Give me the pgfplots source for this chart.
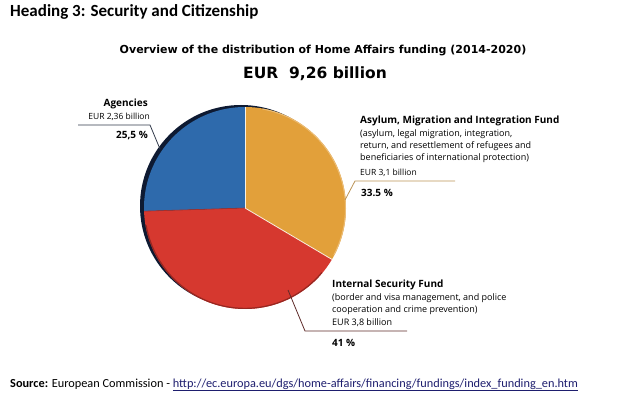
\documentclass[border=0pt]{standalone}
\usepackage{fontspec}
\setmainfont{Open Sans}
\newfontfamily\calibri{Carlito}
\newfontfamily\titlefont{DejaVu Sans}
\usepackage{pgfplots}
\pgfplotsset{compat=1.18}
\definecolor{pieorange}{RGB}{226,160,58}
\definecolor{piered}{RGB}{214,56,47}
\definecolor{pieblue}{RGB}{46,106,172}
\definecolor{shadowc}{RGB}{14,26,50}
\definecolor{linktxt}{RGB}{30,30,110}
% shares in percent
\def\pAsylum{33.5}
\def\pInternal{41}
\def\pAgencies{25.5}
\pgfmathsetmacro\aA{90}
\pgfmathsetmacro\aB{90-3.6*\pAsylum}
\pgfmathsetmacro\aC{\aB-3.6*\pInternal}
\pgfmathsetmacro\aD{\aC-3.6*\pAgencies}
\begin{document}
\begin{tikzpicture}
\useasboundingbox (0,0) rectangle (642pt,399pt);
\begin{axis}[at={(0,0)},anchor=south west,scale only axis,width=642pt,height=399pt,
  xmin=0,xmax=642,ymin=0,ymax=399,hide axis,clip=false]
% shadow
\fill[shadowc] (axis cs:241,193) circle[radius=101pt];
% slices
\fill[pieorange] (axis cs:245,191) -- ++(\aA:101pt) arc[start angle=\aA,end angle=\aB,radius=101pt] -- cycle;
\fill[piered] (axis cs:245,191) -- ++(\aB:101pt) arc[start angle=\aB,end angle=\aC,radius=101pt] -- cycle;
\fill[pieblue] (axis cs:245,191) -- ++(\aC:101pt) arc[start angle=\aC,end angle=\aD,radius=101pt] -- cycle;
\draw[piered!70!black,line width=1.2pt] (axis cs:245,191) ++(-40:100.4pt) arc[start angle=-40,end angle=-170,radius=100.4pt];
\draw[pieorange!70!white,line width=1pt] (axis cs:245,191) ++(80:100.5pt) arc[start angle=80,end angle=-28,radius=100.5pt];
\draw[white!85!pieorange,line width=0.8pt] (axis cs:245,191) -- ++(\aA:101pt);
\draw[white!85!pieorange,line width=0.8pt] (axis cs:245,191) -- ++(\aB:101pt);
\draw[piered!80!black,line width=0.6pt] (axis cs:245,191) -- ++(\aC:101pt);
% heading
\node[anchor=base west,inner sep=0pt,font=\calibri\bfseries\fontsize{17}{20}\selectfont] at (axis cs:10,382) {Heading 3: Security and Citizenship};
% titles
\node[anchor=base,inner sep=0pt,font=\titlefont\bfseries\fontsize{11}{13}\selectfont] at (axis cs:323,345) {Overview of the distribution of Home Affairs funding (2014-2020)};
\node[anchor=base,inner sep=0pt,font=\titlefont\bfseries\fontsize{15.5}{18}\selectfont] at (axis cs:315,320) {EUR\ \ 9,26 billion};
% agencies
\draw[shadowc!70!gray,line width=0.8pt] (axis cs:160,250) -- (axis cs:150,274) -- (axis cs:78,274);
\node[anchor=base east,inner sep=0pt,font=\bfseries\fontsize{10}{12}\selectfont] at (axis cs:148,292) {Agencies};
\node[anchor=base east,inner sep=0pt,font=\fontsize{8.5}{10}\selectfont] at (axis cs:150,279) {EUR 2,36 billion};
\node[anchor=base east,inner sep=0pt,font=\bfseries\fontsize{10}{12}\selectfont] at (axis cs:148,260) {25,5 \%};
% asylum
\draw[pieorange!60!gray,line width=0.8pt] (axis cs:345,199) -- (axis cs:355,218) -- (axis cs:455,218);
\node[anchor=base west,inner sep=0pt,font=\bfseries\fontsize{10}{12}\selectfont] at (axis cs:360,275) {Asylum, Migration and Integration Fund};
\node[anchor=base west,inner sep=0pt,font=\fontsize{9}{10}\selectfont] at (axis cs:360,262) {(asylum, legal migration, integration,};
\node[anchor=base west,inner sep=0pt,font=\fontsize{9}{10}\selectfont] at (axis cs:360,250) {return, and resettlement of refugees and};
\node[anchor=base west,inner sep=0pt,font=\fontsize{9}{10}\selectfont] at (axis cs:360,238) {beneficiaries of international protection)};
\node[anchor=base west,inner sep=0pt,font=\fontsize{8.5}{10}\selectfont] at (axis cs:360,223) {EUR 3,1 billion};
\node[anchor=base west,inner sep=0pt,font=\bfseries\fontsize{10}{12}\selectfont] at (axis cs:361,202) {33.5 \%};
% internal security
\draw[piered!40!black!80!gray,line width=0.8pt] (axis cs:288,109) -- (axis cs:305,68) -- (axis cs:407,68);
\node[anchor=base west,inner sep=0pt,font=\bfseries\fontsize{10}{12}\selectfont] at (axis cs:332,111) {Internal Security Fund};
\node[anchor=base west,inner sep=0pt,font=\fontsize{9}{10}\selectfont] at (axis cs:332,99) {(border and visa management, and police};
\node[anchor=base west,inner sep=0pt,font=\fontsize{9}{10}\selectfont] at (axis cs:332,87) {cooperation and crime prevention)};
\node[anchor=base west,inner sep=0pt,font=\fontsize{9}{10}\selectfont] at (axis cs:332,74) {EUR 3,8 billion};
\node[anchor=base west,inner sep=0pt,font=\bfseries\fontsize{10}{12}\selectfont] at (axis cs:332,53) {41 \%};
% source
\node[anchor=base west,inner sep=0pt,font=\calibri\fontsize{12.3}{14}\selectfont] at (axis cs:10,12) {\textbf{Source:} European Commission - {\color{linktxt}\underline{http://ec.europa.eu/dgs/home-affairs/financing/fundings/index\_funding\_en.htm}}};
\end{axis}
\end{tikzpicture}
\end{document}
